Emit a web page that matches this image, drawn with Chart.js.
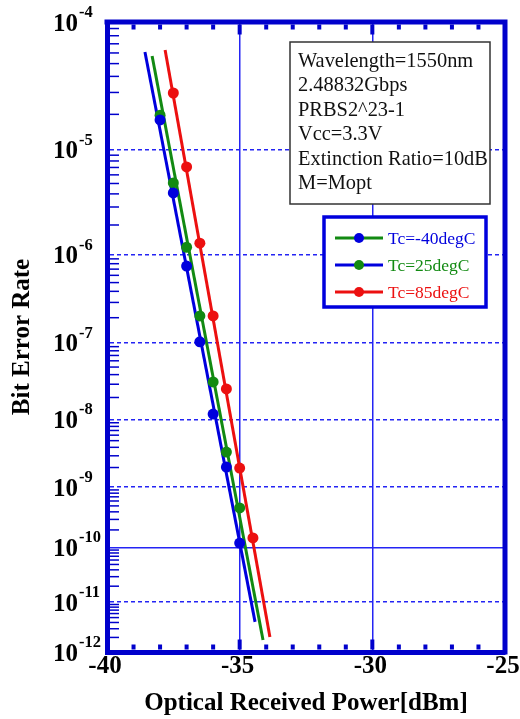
<!DOCTYPE html>
<html><head><meta charset="utf-8">
<script src="https://cdn.jsdelivr.net/npm/chart.js@4.4.1/dist/chart.umd.min.js"></script>
<style>html,body{margin:0;padding:0;background:#fff}canvas{display:block}</style>
</head><body>
<canvas id="c" width="520" height="719"></canvas>
<script>
// ---- data ----
const powerTcMinus40 = [-38.0, -37.5, -37.0, -36.5, -36.0, -35.5, -35.0];
const berTcMinus40   = [1.80e-5, 4.08e-6, 7.54e-7, 1.03e-7, 1.19e-8, 2.03e-9, 1.19e-10];
const powerTc25      = [-38.0, -37.5, -37.0, -36.5, -36.0, -35.5, -35.0];
const berTc25        = [1.97e-5, 5.06e-6, 1.19e-6, 2.10e-7, 3.21e-8, 3.40e-9, 4.64e-10];
const powerTc85      = [-37.5, -37.0, -36.5, -36.0, -35.5, -35.0, -34.5];
const berTc85        = [2.97e-5, 7.07e-6, 1.31e-6, 2.10e-7, 2.60e-8, 1.96e-9, 1.46e-10];
const fitBluePower   = [-38.57, -34.42];
const fitBlueBer     = [6.09e-5, 4.11e-12];
const fitGreenPower  = [-38.30, -34.12];
const fitGreenBer    = [5.69e-5, 1.78e-12];
const fitRedPower    = [-37.81, -33.86];
const fitRedBer      = [6.30e-5, 2.05e-12];
const xTickValues    = [-40, -35, -30, -25];
const yTickExponents = [-4, -5, -6, -7, -8, -9, -10, -11, -12];
const infoLines = ['Wavelength=1550nm', '2.48832Gbps', 'PRBS2^23-1', 'Vcc=3.3V', 'Extinction Ratio=10dB', 'M=Mopt'];
const legendLabels = ['Tc=-40degC', 'Tc=25degC', 'Tc=85degC'];
const xTitle = 'Optical Received Power[dBm]';
const yTitle = 'Bit Error Rate';

const BLUE = '#0000dd', GREEN = '#128a12', RED = '#ec1010', AXIS = '#0000cc', GRID = '#2424f4';
const SERIF = '"Liberation Serif", "Times New Roman", serif';

// ---- BER (log(-log)) scale ----
const T = v => Math.log10(-Math.log10(v));
const Tinv = t => Math.pow(10, -Math.pow(10, t));
class BerScale extends Chart.Scale {
  determineDataLimits() { this.min = this.options.min; this.max = this.options.max; }
  buildTicks() { return yTickExponents.map(e => ({ value: Math.pow(10, e) })); }
  configure() { super.configure(); this._t0 = T(this.min); this._t1 = T(this.max); }
  getLabelForValue(v) { return Number(v).toExponential(2); }
  getPixelForValue(v) { return this.getPixelForDecimal((T(v) - this._t0) / (this._t1 - this._t0)); }
  getValueForPixel(p) { return Tinv(this._t0 + this.getDecimalForPixel(p) * (this._t1 - this._t0)); }
}
BerScale.id = 'ber';
BerScale.defaults = {};
Chart.register(BerScale);

const pts = (xs, ys) => xs.map((x, i) => ({ x, y: ys[i] }));

const decor = {
  id: 'decor',
  afterDraw(chart) {
    const { ctx, chartArea: a, scales: { x, y } } = chart;
    ctx.save();
    // top & right frame
    ctx.strokeStyle = AXIS; ctx.lineWidth = 5;
    ctx.beginPath(); ctx.moveTo(a.left - 2.5, a.top); ctx.lineTo(a.right, a.top); ctx.lineTo(a.right, a.bottom + 2.5); ctx.stroke();
    // y minor ticks
    ctx.lineWidth = 1.5;
    for (let e = -12; e < -4; e++) {
      for (let m = 2; m <= 9; m++) {
        const py = y.getPixelForValue(m * Math.pow(10, e));
        ctx.beginPath(); ctx.moveTo(a.left, py); ctx.lineTo(a.left + 12, py); ctx.stroke();
      }
    }
    // x ticks (bottom and top)
    ctx.fillStyle = AXIS;
    for (let v = -39; v <= -26; v++) {
      const px = x.getPixelForValue(v);
      const h = (v % 5 === 0) ? 10 : 5;
      ctx.fillRect(px - 2, a.bottom - 2.5 - h, 4, h);
      ctx.fillRect(px - 2, a.top + 2.5, 4, h);
    }
    // y tick labels with superscript exponents
    ctx.fillStyle = '#000';
    ctx.textBaseline = 'alphabetic'; ctx.textAlign = 'left';
    yTickExponents.forEach(e => {
      const py = y.getPixelForValue(Math.pow(10, e));
      ctx.font = 'bold 25px ' + SERIF;
      ctx.fillText('10', 53, py + 8.5);
      const w = ctx.measureText('10').width;
      ctx.font = 'bold 16.5px ' + SERIF;
      ctx.fillText(String(e), 53 + w + 1, py - 5);
    });
    // info box
    ctx.fillStyle = '#fff'; ctx.strokeStyle = '#333'; ctx.lineWidth = 1.5;
    ctx.fillRect(290, 42, 200, 162); ctx.strokeRect(290, 42, 200, 162);
    ctx.fillStyle = '#111'; ctx.font = '20.4px ' + SERIF;
    infoLines.forEach((t, i) => ctx.fillText(t, 298, 67 + i * 24.4));
    // legend
    ctx.fillStyle = '#fff'; ctx.fillRect(324, 217, 162, 90);
    ctx.strokeStyle = BLUE; ctx.lineWidth = 3.5; ctx.strokeRect(324, 217, 162, 90);
    const rows = [
      { line: GREEN, mark: BLUE, text: BLUE },
      { line: BLUE, mark: GREEN, text: GREEN },
      { line: RED, mark: RED, text: RED }
    ];
    ctx.font = '17.5px ' + SERIF;
    rows.forEach((r, i) => {
      const ry = 238 + i * 27;
      ctx.strokeStyle = r.line; ctx.lineWidth = 3;
      ctx.beginPath(); ctx.moveTo(335, ry); ctx.lineTo(383, ry); ctx.stroke();
      ctx.fillStyle = r.mark; ctx.beginPath(); ctx.arc(359, ry, 5, 0, Math.PI * 2); ctx.fill();
      ctx.fillStyle = r.text; ctx.fillText(legendLabels[i], 388, ry + 6);
    });
    ctx.restore();
  }
};

new Chart(document.getElementById('c'), {
  type: 'line',
  data: {
    datasets: [
      { label: legendLabels[0], data: pts(powerTcMinus40, berTcMinus40), showLine: false, pointRadius: 5.5, pointBorderWidth: 0, backgroundColor: BLUE, borderColor: BLUE },
      { label: legendLabels[1], data: pts(powerTc25, berTc25), showLine: false, pointRadius: 5.5, pointBorderWidth: 0, backgroundColor: GREEN, borderColor: GREEN },
      { label: legendLabels[2], data: pts(powerTc85, berTc85), showLine: false, pointRadius: 5.5, pointBorderWidth: 0, backgroundColor: RED, borderColor: RED },
      { label: 'fit blue', data: pts(fitBluePower, fitBlueBer), borderColor: BLUE, borderWidth: 3, pointRadius: 0 },
      { label: 'fit green', data: pts(fitGreenPower, fitGreenBer), borderColor: GREEN, borderWidth: 3, pointRadius: 0 },
      { label: 'fit red', data: pts(fitRedPower, fitRedBer), borderColor: RED, borderWidth: 3, pointRadius: 0 }
    ]
  },
  options: {
    responsive: false,
    animation: false,
    devicePixelRatio: 1,
    layout: { padding: { top: 22, right: 15, left: 0, bottom: 0 } },
    plugins: { legend: { display: false }, tooltip: { enabled: false } },
    scales: {
      x: {
        type: 'linear', min: -40, max: -25,
        afterBuildTicks: s => { s.ticks = xTickValues.map(v => ({ value: v })); },
        ticks: { font: { family: SERIF, size: 25, weight: 'bold' }, color: '#000', padding: 0, labelOffset: -2, callback: v => String(v), maxRotation: 0 },
        grid: { color: GRID, lineWidth: 1.5, drawTicks: false },
        border: { color: AXIS, width: 5 },
        title: { display: true, text: xTitle, color: '#000', font: { family: SERIF, size: 25, weight: 'bold' }, padding: { top: 0, bottom: 0 } },
        afterFit: s => { s.height = 67; s.paddingLeft = 0; s.paddingRight = 0; }
      },
      y: {
        type: 'ber', position: 'left', min: 1e-12, max: 1e-4,
        ticks: { display: false },
        grid: { color: GRID, lineWidth: 1.5, drawTicks: false },
        border: { color: AXIS, width: 5, dash: c => (c.type === 'tick' && c.tick && Math.abs(Math.log10(c.tick.value) + 10) > 0.01) ? [4, 3] : [] },
        title: { display: true, text: yTitle, color: '#000', font: { family: SERIF, size: 25, weight: 'bold' }, padding: { top: 8, bottom: 0 } },
        afterFit: s => { s.width = 107; }
      }
    }
  },
  plugins: [decor]
});
</script>
</body></html>
